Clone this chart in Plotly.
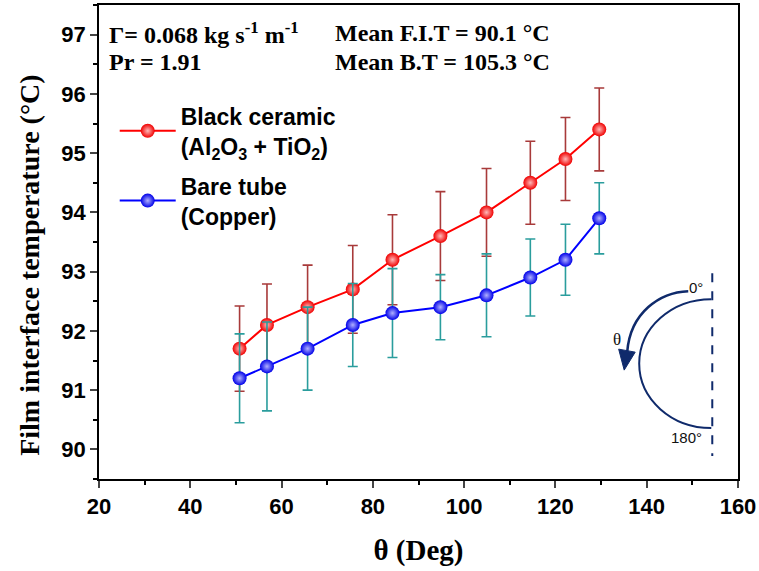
import plotly.graph_objects as go

# ---------------- data ----------------
theta_deg = [50.8, 56.8, 65.7, 75.6, 84.3, 94.8, 104.9, 114.5, 122.2, 129.6]
black_ceramic_T = [91.7, 92.1, 92.4, 92.7, 93.2, 93.6, 94.0, 94.5, 94.9, 95.4]
black_ceramic_err = [0.72, 0.69, 0.71, 0.74, 0.76, 0.75, 0.74, 0.70, 0.70, 0.70]
bare_tube_T = [91.2, 91.4, 91.7, 92.1, 92.3, 92.4, 92.6, 92.9, 93.2, 93.9]
bare_tube_err = [0.75, 0.75, 0.70, 0.70, 0.75, 0.55, 0.70, 0.65, 0.60, 0.60]

x_ticks = [20, 40, 60, 80, 100, 120, 140, 160]
y_ticks = [90, 91, 92, 93, 94, 95, 96, 97]

# ---------------- layout geometry (pixels) ----------------
W, H = 759, 571
PL, PR, PT, PB = 99.3, 737.7, 4.5, 479.0


def px(x, y):
    return (x - PL) / (PR - PL), (PB - y) / (PB - PT)


fig = go.Figure()

fig.add_trace(go.Scatter(
    x=theta_deg, y=black_ceramic_T, mode="lines+markers", legendgroup="a",
    name="<b>Black ceramic<br>(Al<sub>2</sub>O<sub>3</sub> + TiO<sub>2</sub>)</b>",
    line=dict(color="#ff0000", width=2),
    marker=dict(size=14, color="#f00000",
                gradient=dict(type="radial", color="#ffb8b8"),
                line=dict(width=0)),
    error_y=dict(type="data", array=black_ceramic_err, visible=True,
                 color="#a83a3a", thickness=1.6, width=5),
))
fig.add_trace(go.Scatter(
    x=theta_deg, y=bare_tube_T, mode="lines+markers", legendgroup="b",
    name="<b>Bare tube<br>(Copper)</b>",
    line=dict(color="#0000ff", width=2),
    marker=dict(size=14, color="#0000e8",
                gradient=dict(type="radial", color="#b0b0ff"),
                line=dict(width=0)),
    error_y=dict(type="data", array=bare_tube_err, visible=True,
                 color="#2a9d9d", thickness=1.6, width=5),
))

# ---------------- inset diagram ----------------
navy = "#0f2a6b"
cx, cy, rx, ry = 711.0, 363.5, 72.0, 64.5
k = 0.5523


def P(x, y):
    a, b = px(x, y)
    return f"{a:.5f},{b:.5f}"


semi = (f"M {P(cx, cy - ry)} "
        f"C {P(cx - k * rx, cy - ry)} {P(cx - rx, cy - k * ry)} {P(cx - rx, cy)} "
        f"C {P(cx - rx, cy + k * ry)} {P(cx - k * rx, cy + ry)} {P(cx, cy + ry)}")
fig.add_shape(type="path", path=semi, xref="paper", yref="paper",
              line=dict(color=navy, width=2))

arc = f"M {P(688, 291)} C {P(660, 292)} {P(630, 312)} {P(627, 352)}"
fig.add_shape(type="path", path=arc, xref="paper", yref="paper",
              line=dict(color=navy, width=2.5))
head = f"M {P(618.5, 349)} L {P(635, 352)} L {P(624, 370)} Z"
fig.add_shape(type="path", path=head, xref="paper", yref="paper",
              line=dict(color=navy, width=1), fillcolor=navy)

x0, y0 = px(712, 273)
x1, y1 = px(712, 456)
fig.add_shape(type="line", x0=x0, y0=y0, x1=x1, y1=y1, xref="paper", yref="paper",
              line=dict(color=navy, width=2, dash="dash"))

for txt, (tx, ty), fam, fs in [("0°", (696, 287), "Liberation Sans", 15),
                               ("θ", (617, 339), "Liberation Serif", 17),
                               ("180°", (686, 437), "Liberation Sans", 15)]:
    ax_, ay_ = px(tx, ty)
    fig.add_annotation(x=ax_, y=ay_, xref="paper", yref="paper", text=txt,
                       xanchor="center", yanchor="middle",
                       showarrow=False, font=dict(family=fam, size=fs, color="#111111"))

# ---------------- header texts ----------------
serif = "Liberation Serif, Times New Roman, serif"
for txt, (tx, ty) in [("<b>Γ= 0.068 kg s<sup>-1</sup> m<sup>-1</sup></b>", (107, 33)),
                      ("<b>Pr = 1.91</b>", (107, 62)),
                      ("<b>Mean F.I.T = 90.1 °C</b>", (333, 33)),
                      ("<b>Mean B.T = 105.3 °C</b>", (333, 62))]:
    ax_, ay_ = px(tx, ty)
    fig.add_annotation(x=ax_, y=ay_, xref="paper", yref="paper", text=txt,
                       showarrow=False, xanchor="left", yanchor="middle",
                       font=dict(family=serif, size=24, color="black"))

# y-axis title placed as a rotated annotation (off-centre in the reference)
tx_, ty_ = px(30, 265)
fig.add_annotation(x=tx_, y=ty_, xref="paper", yref="paper",
                   text="<b>Film interface temperature (°C)</b>", textangle=-90,
                   xanchor="center", yanchor="middle", showarrow=False,
                   font=dict(family=serif, size=28, color="black"))

lx, ly = px(115, 94)
fig.update_layout(
    width=W, height=H,
    margin=dict(l=PL, r=W - PR, t=PT, b=H - PB, autoexpand=False),
    paper_bgcolor="white", plot_bgcolor="white",
    showlegend=True,
    legend=dict(x=lx, y=ly, xanchor="left", yanchor="top", itemwidth=56,
                bgcolor="rgba(0,0,0,0)", tracegroupgap=7,
                font=dict(family="Liberation Sans, Arial, sans-serif", size=23, color="black")),
    xaxis=dict(range=[20, 160], tickvals=x_ticks, ticks="outside", ticklen=7, tickwidth=1.5,
               showline=True, linecolor="black", linewidth=1.5, mirror=True, showgrid=False,
               zeroline=False,
               minor=dict(dtick=10, ticks="outside", ticklen=4, tickwidth=1.5, tickcolor="black"),
               tickfont=dict(family="Liberation Sans, Arial, sans-serif", size=22, color="black", weight="bold"),
               title=dict(text="<b>θ (Deg)</b>", standoff=22,
                          font=dict(family=serif, size=29, color="black"))),
    yaxis=dict(range=[89.5, 97.5], tickvals=y_ticks, ticks="outside", ticklen=7, tickwidth=1.5,
               showline=True, linecolor="black", linewidth=1.5, mirror=True, showgrid=False,
               zeroline=False,
               minor=dict(dtick=0.5, ticks="outside", ticklen=4, tickwidth=1.5, tickcolor="black"),
               tickfont=dict(family="Liberation Sans, Arial, sans-serif", size=22, color="black", weight="bold")),
)

fig.write_html("out.html", config={"displayModeBar": False},
               post_script="document.body.style.margin='0px';")
